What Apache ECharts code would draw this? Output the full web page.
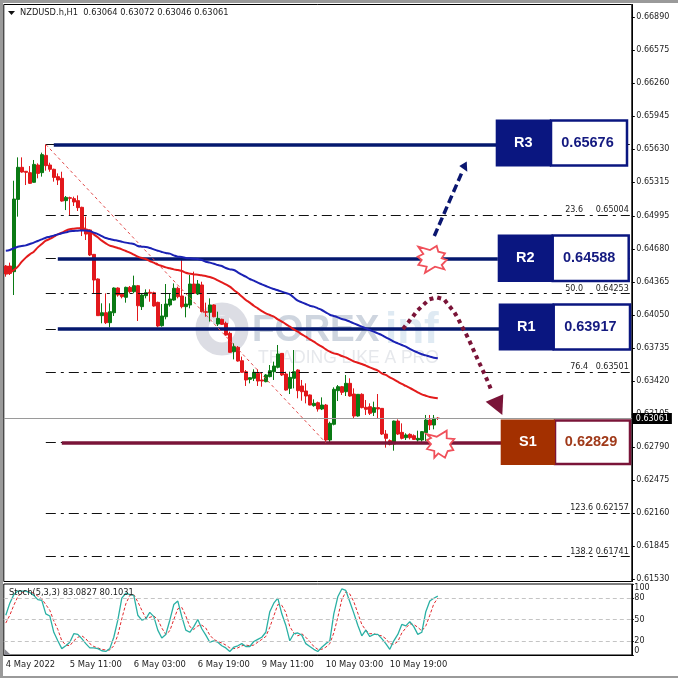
<!DOCTYPE html>
<html><head><meta charset="utf-8">
<style>html,body{margin:0;padding:0;background:#fff}#c{width:678px;height:678px}</style>
<script src="https://cdn.jsdelivr.net/npm/echarts@6/dist/echarts.min.js"></script>
</head><body><div id="c"></div>
<script>
const symbolTitle = 'NZDUSD.h,H1  0.63064 0.63072 0.63046 0.63061';
const stochTitle = 'Stoch(5,3,3) 83.0827 80.1031';
const opens = [0.64516,0.64516,0.64462,0.65152,0.65458,0.65420,0.65407,0.65315,0.65480,0.65407,0.65572,0.65480,0.65439,0.65369,0.65353,0.65140,0.65168,0.65159,0.65140,0.65076,0.64866,0.64860,0.64627,0.64392,0.64042,0.64070,0.63975,0.64070,0.64306,0.64246,0.64217,0.64312,0.64271,0.64328,0.64128,0.64233,0.64265,0.64261,0.64169,0.63946,0.64032,0.64144,0.64191,0.64303,0.64230,0.64128,0.64144,0.64344,0.64249,0.64335,0.64080,0.64074,0.64144,0.63962,0.64007,0.63969,0.63873,0.63698,0.63740,0.63612,0.63507,0.63434,0.63444,0.63491,0.63428,0.63412,0.63460,0.63507,0.63549,0.63682,0.63485,0.63348,0.63444,0.63523,0.63371,0.63323,0.63285,0.63183,0.63211,0.63151,0.63189,0.62855,0.63005,0.63326,0.63364,0.63316,0.63396,0.63294,0.63084,0.63291,0.63167,0.63173,0.63119,0.63164,0.63157,0.62912,0.62849,0.62817,0.63036,0.62928,0.62877,0.62909,0.62896,0.62855,0.62855,0.62925,0.63046,0.62998,0.63064];
const highs = [0.64525,0.64548,0.65330,0.65553,0.65553,0.65420,0.65470,0.65528,0.65496,0.65598,0.65676,0.65502,0.65445,0.65400,0.65416,0.65184,0.65178,0.65178,0.65190,0.65082,0.64987,0.64866,0.64631,0.64398,0.64160,0.64255,0.64160,0.64312,0.64312,0.64255,0.64319,0.64325,0.64424,0.64335,0.64249,0.64293,0.64293,0.64271,0.64175,0.64153,0.64344,0.64255,0.64350,0.64319,0.64605,0.64223,0.64430,0.64462,0.64382,0.64366,0.64166,0.64207,0.64150,0.64080,0.64013,0.63985,0.63889,0.63778,0.63752,0.63651,0.63523,0.63453,0.63530,0.63530,0.63498,0.63485,0.63571,0.63603,0.63762,0.63685,0.63507,0.63507,0.63714,0.63530,0.63428,0.63396,0.63290,0.63243,0.63221,0.63262,0.63199,0.63030,0.63358,0.63380,0.63371,0.63476,0.63444,0.63348,0.63294,0.63301,0.63237,0.63205,0.63221,0.63294,0.63160,0.62950,0.62861,0.63040,0.63052,0.63014,0.62919,0.62919,0.62909,0.62944,0.62941,0.63094,0.63094,0.63094,0.63072];
const lows = [0.64414,0.64430,0.64239,0.64987,0.65407,0.65289,0.65299,0.65311,0.65353,0.65369,0.65426,0.65416,0.65321,0.65289,0.65130,0.65050,0.64996,0.65089,0.65041,0.64802,0.64764,0.64611,0.64255,0.64039,0.63969,0.63962,0.63931,0.64039,0.64223,0.64207,0.64166,0.64255,0.64255,0.63991,0.64096,0.64207,0.64175,0.64128,0.63931,0.63937,0.64007,0.64128,0.64185,0.64207,0.64112,0.64026,0.64112,0.64249,0.64239,0.64074,0.64032,0.63985,0.64026,0.63943,0.63953,0.63851,0.63689,0.63625,0.63603,0.63498,0.63371,0.63396,0.63418,0.63371,0.63364,0.63406,0.63453,0.63428,0.63539,0.63466,0.63326,0.63294,0.63348,0.63253,0.63230,0.63205,0.63186,0.63173,0.63126,0.63141,0.62839,0.62830,0.62995,0.63227,0.63285,0.63275,0.63269,0.63062,0.63078,0.63157,0.63094,0.63094,0.63084,0.63062,0.62903,0.62782,0.62804,0.62753,0.62903,0.62861,0.62855,0.62861,0.62855,0.62839,0.62839,0.62846,0.62950,0.62957,0.63046];
const closes = [0.64440,0.64446,0.65155,0.65458,0.65413,0.65410,0.65305,0.65486,0.65400,0.65579,0.65474,0.65439,0.65362,0.65337,0.65136,0.65171,0.65162,0.65127,0.65073,0.64860,0.64821,0.64621,0.64382,0.64042,0.64070,0.63975,0.64080,0.64306,0.64239,0.64223,0.64312,0.64271,0.64328,0.64137,0.64239,0.64261,0.64255,0.64134,0.63943,0.64039,0.64153,0.64201,0.64303,0.64223,0.64128,0.64153,0.64344,0.64255,0.64344,0.64080,0.64074,0.64144,0.64032,0.64016,0.63959,0.63857,0.63692,0.63746,0.63609,0.63501,0.63428,0.63450,0.63501,0.63418,0.63418,0.63476,0.63517,0.63561,0.63676,0.63476,0.63332,0.63453,0.63507,0.63326,0.63316,0.63275,0.63189,0.63205,0.63151,0.63189,0.62855,0.63014,0.63339,0.63364,0.63310,0.63396,0.63275,0.63084,0.63291,0.63164,0.63148,0.63110,0.63164,0.63151,0.62912,0.62871,0.62814,0.63036,0.62912,0.62871,0.62903,0.62877,0.62861,0.62871,0.62935,0.63046,0.62998,0.63062,0.63061];
const maRed = [0.64446,0.64452,0.64478,0.64510,0.64557,0.64596,0.64627,0.64653,0.64694,0.64726,0.64758,0.64774,0.64796,0.64818,0.64834,0.64853,0.64866,0.64872,0.64876,0.64879,0.64866,0.64850,0.64818,0.64790,0.64758,0.64732,0.64710,0.64700,0.64688,0.64675,0.64659,0.64643,0.64624,0.64605,0.64592,0.64583,0.64564,0.64548,0.64529,0.64516,0.64503,0.64494,0.64484,0.64478,0.64468,0.64452,0.64443,0.64436,0.64433,0.64427,0.64420,0.64411,0.64398,0.64379,0.64360,0.64341,0.64319,0.64287,0.64258,0.64225,0.64192,0.64166,0.64137,0.64112,0.64086,0.64064,0.64048,0.64032,0.64007,0.63985,0.63962,0.63937,0.63911,0.63889,0.63864,0.63841,0.63816,0.63794,0.63768,0.63746,0.63721,0.63698,0.63682,0.63673,0.63657,0.63644,0.63625,0.63606,0.63593,0.63581,0.63565,0.63549,0.63533,0.63517,0.63491,0.63476,0.63453,0.63434,0.63412,0.63390,0.63371,0.63352,0.63332,0.63310,0.63291,0.63278,0.63266,0.63259,0.63253];
const maBlue = [0.64662,0.64669,0.64685,0.64700,0.64707,0.64713,0.64726,0.64739,0.64755,0.64770,0.64786,0.64796,0.64806,0.64818,0.64828,0.64837,0.64847,0.64850,0.64853,0.64856,0.64856,0.64850,0.64834,0.64821,0.64802,0.64783,0.64774,0.64764,0.64758,0.64748,0.64739,0.64732,0.64726,0.64707,0.64700,0.64697,0.64688,0.64675,0.64662,0.64650,0.64640,0.64634,0.64618,0.64605,0.64602,0.64592,0.64589,0.64586,0.64583,0.64573,0.64557,0.64548,0.64538,0.64525,0.64516,0.64497,0.64484,0.64478,0.64456,0.64433,0.64414,0.64392,0.64376,0.64357,0.64341,0.64325,0.64309,0.64296,0.64284,0.64271,0.64258,0.64246,0.64215,0.64185,0.64169,0.64153,0.64137,0.64128,0.64112,0.64096,0.64074,0.64051,0.64039,0.64026,0.64010,0.64001,0.63985,0.63969,0.63953,0.63937,0.63921,0.63905,0.63889,0.63873,0.63857,0.63835,0.63816,0.63794,0.63778,0.63762,0.63746,0.63724,0.63705,0.63689,0.63673,0.63663,0.63651,0.63641,0.63635];
const stochK = [56,73,85,90,90,90,88,84,78,77,58,55,32,20,9,13,18,30,29,23,16,10,10,9,6,5,9,25,49,80,87,85,84,56,49,51,60,54,35,24,29,49,71,76,54,35,32,40,50,37,28,18,20,18,13,10,5,11,13,16,12,12,19,22,25,32,61,73,80,58,42,20,30,31,28,16,12,8,5,11,16,20,58,82,93,91,75,59,42,27,35,26,29,29,23,16,8,20,29,43,41,47,40,29,32,61,76,80,83];
const stochD = [45,56,70,82,88,90,89,87,83,79,71,63,48,36,20,14,13,20,25,27,23,16,12,10,8,7,7,13,28,51,72,84,85,75,63,52,53,55,50,38,29,34,50,65,67,55,40,36,41,42,38,28,22,19,17,14,10,9,10,13,14,13,14,18,22,26,39,55,71,70,60,40,31,27,30,25,19,12,8,8,11,16,31,53,78,89,86,75,59,43,35,30,30,28,27,23,16,15,19,31,38,44,43,39,34,41,56,72,80];
const priceTicks = [0.6689,0.66575,0.6626,0.65945,0.6563,0.65315,0.64995,0.6468,0.64365,0.6405,0.63735,0.6342,0.63105,0.6279,0.62475,0.6216,0.61845,0.6153];
const stochTicks = [0,20,50,80,100];
const stochLevels = [20,50,80];
const timeTicks = ['4 May 2022','5 May 11:00','6 May 03:00','6 May 19:00','9 May 11:00','10 May 03:00','10 May 19:00'];
const barsPerTick = 16;
const slotCount = 157;
const levelNames = ['R3','R2','R1','S1'];
const levelValues = [0.65676,0.64588,0.63917,0.62829];
const levelStart = [12,13,13,14];
const levelEnd = [123,123,124,124];
const fibNames = ['23.6','50.0','76.4','123.6','138.2'];
const fibValues = [0.65004,0.64253,0.63501,0.62157,0.61741];
const fibGaps = ['     ','     ','   ',' ',' '];
const lastPrice = 0.63061;

const cats = []; for (let i = 0; i < slotCount; i++) cats.push('bar' + i);
const tickIdx = timeTicks.map((_, i) => i * barsPerTick);
const candles = opens.map((o, i) => [o, closes[i], lows[i], highs[i]]);
const UP = '#0a7a14', DOWN = '#e2181c', NAVY = '#04186e', MAROON = '#7a1438';
const FONT = '"DejaVu Sans", sans-serif';
const dashDot = [10, 5, 3, 5];

function ml(data, extra) {
  return Object.assign({ silent: true, symbol: 'none', animation: false, precision: 6, data }, extra || {});
}
function overlay(name, markLine, z) {
  return { name, type: 'line', xAxisIndex: 0, yAxisIndex: 0, data: [], z, markLine };
}
const fibAll = fibValues.concat(levelValues);
const seg = (a, b, v, o) => [Object.assign({ coord: [a, v] }, o || {}), { coord: [b, v] }];

const boxes = [
  { x0: 495.7, x1: 551, x2: 627, y0: 119.5, y1: 166.5, fill: '#0a1680', edge: '#0a1680', txt: '#141a80' },
  { x0: 497.7, x1: 552.7, x2: 628.7, y0: 234.5, y1: 282, fill: '#0a1680', edge: '#0a1680', txt: '#141a80' },
  { x0: 498.7, x1: 553.7, x2: 630, y0: 303.5, y1: 350.5, fill: '#0a1680', edge: '#0a1680', txt: '#141a80' },
  { x0: 500.7, x1: 555, x2: 630, y0: 419.5, y1: 465, fill: '#a33000', edge: MAROON, txt: '#a03a1a' }
];
const gfx = [];
const Z = 50;
boxes.forEach((b, i) => {
  gfx.push({ type: 'rect', z: Z, silent: true, shape: { x: b.x1, y: b.y0 + 1, width: b.x2 - b.x1, height: b.y1 - b.y0 - 2 }, style: { fill: '#fff', stroke: b.edge, lineWidth: 2.5 } });
  gfx.push({ type: 'rect', z: Z + 1, silent: true, shape: { x: b.x0, y: b.y0, width: b.x1 - b.x0, height: b.y1 - b.y0 }, style: { fill: b.fill } });
  gfx.push({ type: 'text', z: Z + 2, silent: true, style: { x: (b.x0 + b.x1) / 2, y: (b.y0 + b.y1) / 2, text: levelNames[i], fill: '#fff', font: 'bold 14.5px "Liberation Sans"', textAlign: 'center', textVerticalAlign: 'middle' } });
  gfx.push({ type: 'text', z: Z + 2, silent: true, style: { x: (b.x1 + b.x2) / 2 - 1.5, y: (b.y0 + b.y1) / 2, text: levelValues[i].toFixed(5), fill: b.txt, font: 'bold 14.5px "Liberation Sans"', textAlign: 'center', textVerticalAlign: 'middle' } });
});
// frame
[[0, 0, 3, 678], [0, 0, 678, 3], [0, 676, 678, 2]].forEach(r => gfx.push({ type: 'rect', z: Z, silent: true, shape: { x: r[0], y: r[1], width: r[2], height: r[3] }, style: { fill: '#9a9a9a' } }));
// header
gfx.push({ type: 'polygon', z: Z, silent: true, shape: { points: [[8, 11], [15, 11], [11.5, 15]] }, style: { fill: '#111' } });
gfx.push({ type: 'text', z: Z, silent: true, style: { x: 20, y: 12.5, text: symbolTitle, fill: '#222', font: '8.3px ' + FONT, textVerticalAlign: 'middle' } });
gfx.push({ type: 'text', z: Z, silent: true, style: { x: 9, y: 593, text: stochTitle, fill: '#222', font: '8.3px ' + FONT, textVerticalAlign: 'middle' } });
gfx.push({ type: 'polygon', z: Z, silent: true, shape: { points: [[4.5, 649], [11, 655], [4.5, 655]] }, style: { fill: '#8a8a92' } });
// watermark
gfx.push({ type: 'circle', z: 0, silent: true, shape: { cx: 222, cy: 329, r: 20 }, style: { fill: 'none', stroke: '#dcdde4', lineWidth: 13 } });
gfx.push({ type: 'rect', z: 0, silent: true, shape: { x: 213, y: 316, width: 16, height: 8 }, style: { fill: '#dcdde4' } });
gfx.push({ type: 'text', z: 0, silent: true, style: { x: 252, y: 331, text: 'FOREX', fill: '#ced5df', font: 'bold 37px "Liberation Sans"', textVerticalAlign: 'middle' } });
gfx.push({ type: 'text', z: 0, silent: true, style: { x: 385, y: 331, text: 'inf', fill: '#dfeaf3', font: 'bold 44px "Liberation Sans"', textVerticalAlign: 'middle' } });
gfx.push({ type: 'text', z: 0, silent: true, style: { x: 258, y: 358, text: 'TRADING LIKE A PRO', fill: '#e6e8ec', font: '17.5px "Liberation Sans"', textVerticalAlign: 'middle' } });
// blue arrow
gfx.push({ type: 'line', z: Z, silent: true, shape: { x1: 434.3, y1: 236, x2: 463, y2: 170 }, style: { stroke: '#0a1670', lineWidth: 3.5, lineDash: [8, 4] } });
gfx.push({ type: 'polygon', z: Z, silent: true, shape: { points: [[466.7, 161.5], [459.3, 166], [467.3, 171.7]] }, style: { fill: '#0a1670' } });
// maroon curved dotted arrow
gfx.push({ type: 'polyline', z: Z, silent: true, shape: { points: [[403, 329], [412.7, 316.7], [417.3, 310.7], [423.3, 305], [429.3, 299.3], [436.7, 297.3], [444, 299.3], [449, 305.7], [454, 311.7], [458.3, 319], [461.7, 326], [465.7, 333.3], [469, 340], [472.3, 347.3], [475.7, 355], [479, 362.3], [482.3, 369.3], [485.7, 376.7], [489, 384.3], [492, 392]] }, style: { stroke: MAROON, lineWidth: 4, lineDash: [4, 4], fill: 'none' } });
gfx.push({ type: 'polygon', z: Z, silent: true, shape: { points: [[485.7, 401.7], [503.3, 394.3], [502.3, 415]] }, style: { fill: MAROON } });
// bursts
const burst1 = [[418.3, 246.7], [430, 250], [436.7, 246], [438.3, 251.7], [445, 253.3], [441.7, 258.3], [446.7, 260], [441.7, 265], [444.3, 269.3], [435, 266.7], [425, 272.7], [426.7, 266.7], [418.3, 265], [421.7, 260], [417.7, 256.7], [423.3, 254]];
const burst2 = [[426.7, 434], [436.7, 436.7], [446.7, 430.7], [446.7, 438.3], [454.3, 439], [450, 444.3], [453.3, 450], [447.7, 451], [445, 457.7], [438.3, 453.3], [434.3, 457.7], [434.3, 451], [427, 449], [431, 444], [427, 440], [431, 438]];
[burst1, burst2].forEach(p => gfx.push({ type: 'polygon', z: Z, silent: true, shape: { points: p }, style: { fill: '#fff', stroke: '#f0505a', lineWidth: 1.8 } }));

const option = {
  animation: false,
  backgroundColor: '#fff',
  grid: [
    { left: 3.8, width: 628, top: 4.5, height: 577, show: true, borderColor: '#000', borderWidth: 1, backgroundColor: 'transparent' },
    { left: 3.8, width: 628, top: 584, height: 71, show: true, borderColor: '#000', borderWidth: 1, backgroundColor: 'transparent' }
  ],
  xAxis: [
    { type: 'category', gridIndex: 0, data: cats, show: false },
    { type: 'category', gridIndex: 1, data: cats,
      axisLine: { lineStyle: { color: '#000' } },
      axisTick: { alignWithLabel: true, length: 3, interval: i => tickIdx.includes(i), lineStyle: { color: '#000' } },
      axisLabel: { interval: i => tickIdx.includes(i), align: 'left', margin: 6, color: '#222', fontFamily: 'DejaVu Sans', fontSize: 8.4,
        hideOverlap: false, showMinLabel: true,
        formatter: (v, i) => { const k = tickIdx.indexOf(i); return k >= 0 ? timeTicks[k] : ''; } }
    }
  ],
  yAxis: [
    { type: 'value', gridIndex: 0, position: 'right', min: 0.615044, max: 0.670122, splitLine: { show: false },
      axisLine: { show: true, lineStyle: { color: '#000' } },
      axisTick: { show: true, length: 3, customValues: priceTicks, lineStyle: { color: '#000' } },
      axisLabel: { customValues: priceTicks, margin: 4.5, color: '#222', fontFamily: 'DejaVu Sans', fontSize: 8, formatter: v => v.toFixed(5) } },
    { type: 'value', gridIndex: 1, position: 'right', min: 0, max: 100, splitLine: { show: false },
      axisLine: { show: true, lineStyle: { color: '#000' } },
      axisTick: { show: true, length: 2, customValues: stochTicks, lineStyle: { color: '#000' } },
      axisLabel: { customValues: stochTicks, margin: 2.5, color: '#222', fontFamily: 'DejaVu Sans', fontSize: 8, verticalAlignMaxLabel: 'top', verticalAlignMinLabel: 'bottom' } }
  ],
  series: [
    overlay('last', ml([{ yAxis: lastPrice }], { lineStyle: { color: '#9a9a9a', width: 1, type: 'solid' },
      label: { show: true, position: 'end', distance: 1, formatter: lastPrice.toFixed(5), backgroundColor: '#000', color: '#fff', padding: [1.5, 3], fontFamily: 'DejaVu Sans', fontSize: 8 } }), 60),
    overlay('fib', ml(fibAll.map((v, i) => seg(10, slotCount - 1, v, i < fibValues.length ? { label: { show: true, position: 'insideEndTop', distance: 1, formatter: fibNames[i] + fibGaps[i] + v.toFixed(5), color: '#222', fontFamily: 'DejaVu Sans', fontSize: 8 } } : { label: { show: false } })),
      { lineStyle: { color: '#111', width: 1, type: dashDot }, label: { show: false } }), 1),
    { name: 'candles', type: 'candlestick', xAxisIndex: 0, yAxisIndex: 0, data: candles, barWidth: 3, z: 3,
      itemStyle: { color: UP, color0: DOWN, borderColor: UP, borderColor0: DOWN, borderWidth: 1 } },
    overlay('levels', ml(levelValues.map((v, i) => seg(levelStart[i], levelEnd[i], v, { lineStyle: { color: i === 3 ? MAROON : NAVY, width: 3.5, type: 'solid' } })),
      { label: { show: false } }), 4),
    overlay('trend', ml([[{ coord: [10, levelValues[0]] }, { coord: [80, levelValues[3]] }]], { lineStyle: { color: '#e24a4a', width: 1, type: [3, 3] }, label: { show: false } }), 2),
    { name: 'MA red', type: 'line', xAxisIndex: 0, yAxisIndex: 0, data: maRed, showSymbol: false, smooth: 0.4, z: 5, lineStyle: { color: '#e31b1b', width: 2 } },
    { name: 'MA blue', type: 'line', xAxisIndex: 0, yAxisIndex: 0, data: maBlue, showSymbol: false, smooth: 0.4, z: 5, lineStyle: { color: '#1b22b4', width: 2 } },
    { name: 'Stoch main', type: 'line', xAxisIndex: 1, yAxisIndex: 1, data: stochK, showSymbol: false, z: 4, lineStyle: { color: '#2ab0a4', width: 1.3 },
      markLine: ml(stochLevels.map(v => ({ yAxis: v })), { lineStyle: { color: '#c4c4c4', width: 1, type: [4, 3] }, label: { show: false } }) },
    { name: 'Stoch signal', type: 'line', xAxisIndex: 1, yAxisIndex: 1, data: stochD, showSymbol: false, z: 3, lineStyle: { color: '#e2282c', width: 1, type: [3, 2] } }
  ],
  graphic: { elements: gfx }
};
const chart = echarts.init(document.getElementById('c'), null, { renderer: 'canvas' });
chart.setOption(option);
</script></body></html>
